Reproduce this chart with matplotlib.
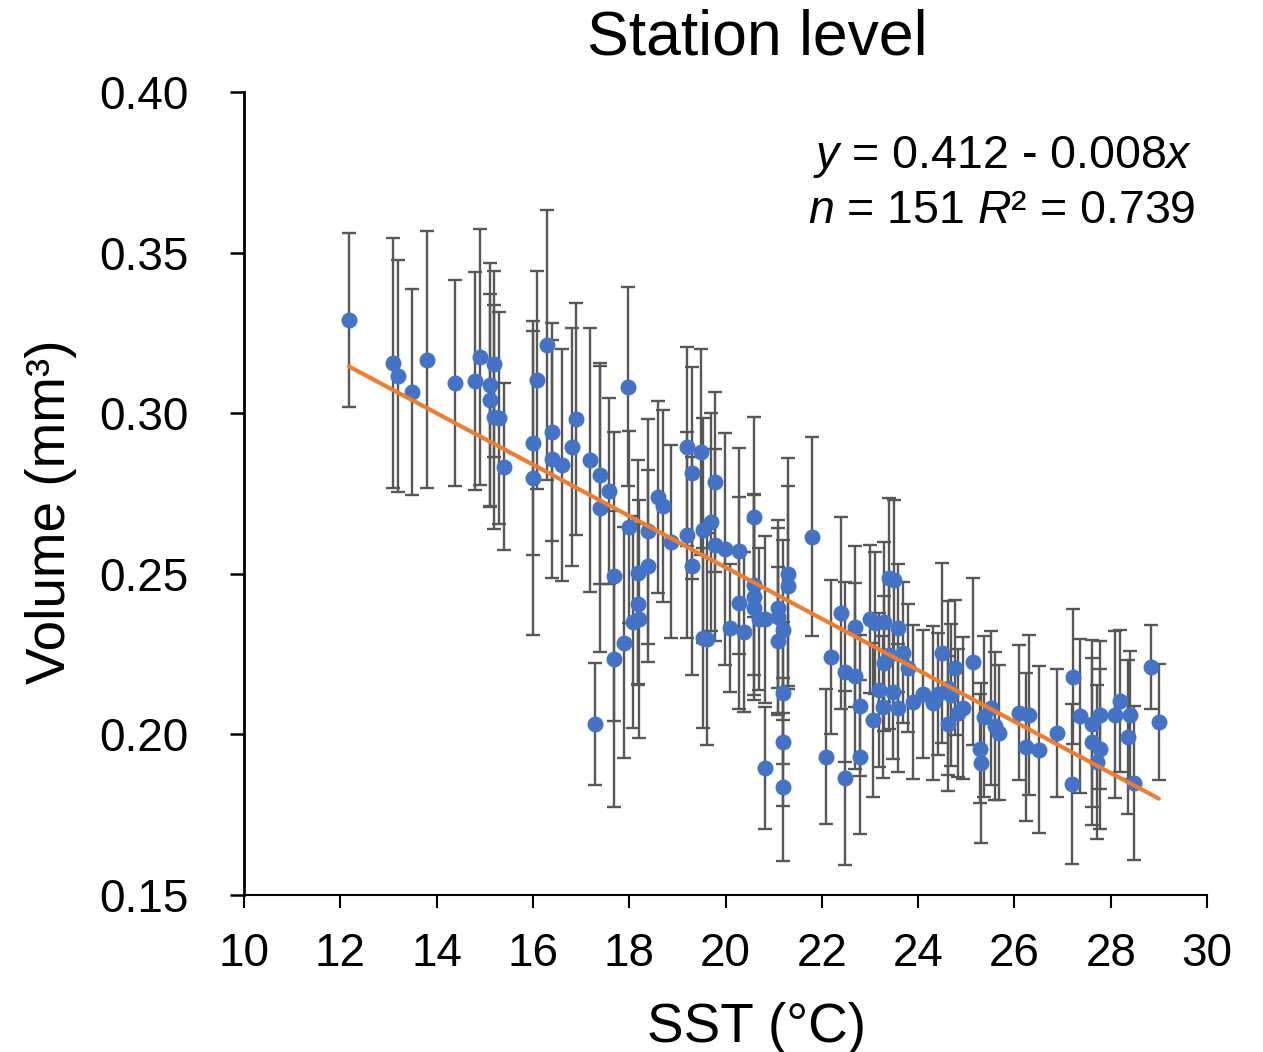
import numpy as np
import matplotlib
matplotlib.use("Agg")
import matplotlib.pyplot as plt

plt.rcParams['font.family'] = ['Liberation Sans', 'DejaVu Sans']
plt.rcParams['mathtext.fontset'] = 'custom'
plt.rcParams['mathtext.rm'] = 'Liberation Sans'
plt.rcParams['mathtext.it'] = 'Liberation Sans:italic'

# SST (°C)
sst = [12.18, 13.09, 13.20, 13.49, 13.80, 14.38, 14.80, 14.90, 15.19, 15.11,
       15.11, 15.19, 15.30, 15.40, 16.00, 16.00, 16.09, 16.29, 16.40, 16.40,
       16.60, 16.81, 16.90, 17.19, 17.29, 17.39, 17.39, 17.58, 17.68, 17.68,
       17.89, 17.98, 18.00, 18.08, 18.18, 18.20, 18.18, 18.39, 18.39, 18.60,
       18.70, 18.87, 19.20, 19.20, 19.30, 19.30, 19.49, 19.53, 19.53, 19.62,
       19.70, 19.78, 19.78, 19.99, 20.09, 20.28, 20.28, 20.38, 20.59, 20.59,
       20.59, 20.59, 20.70, 20.82, 20.82, 21.09, 21.09, 21.09, 21.19, 21.19,
       21.19, 21.19, 21.30, 21.30, 21.80, 22.09, 22.19, 22.40, 22.48, 22.48,
       22.69, 22.69, 22.79, 22.79, 23.00, 23.06, 23.10, 23.19, 23.29, 23.27,
       23.40, 23.50, 23.29, 23.40, 23.48, 23.58, 23.58, 23.69, 23.79, 23.89,
       24.10, 24.31, 24.41, 24.50, 24.62, 24.68, 24.62, 24.77, 24.83, 24.93,
       25.14, 25.29, 25.31, 25.37, 25.51, 25.60, 25.68, 26.10, 26.30, 26.24,
       26.51, 26.88, 27.22, 27.20, 27.36, 27.61, 27.78, 27.61, 27.78, 27.72,
       28.09, 28.19, 28.40, 28.36, 28.48, 28.84, 29.00]

# Volume (mm3)
volume = [0.3290, 0.3156, 0.3116, 0.3066, 0.3166, 0.3094, 0.3100, 0.3175, 0.3153, 0.3088,
          0.3041, 0.2988, 0.2985, 0.2833, 0.2907, 0.2798, 0.3103, 0.3212, 0.2942, 0.2857,
          0.2839, 0.2895, 0.2982, 0.2854, 0.2033, 0.2808, 0.2705, 0.2758, 0.2493, 0.2235,
          0.2285, 0.3082, 0.2646, 0.2350, 0.2503, 0.2359, 0.2406, 0.2524, 0.2633, 0.2739,
          0.2711, 0.2600, 0.2895, 0.2621, 0.2814, 0.2524, 0.2879, 0.2636, 0.2300, 0.2297,
          0.2661, 0.2786, 0.2590, 0.2577, 0.2331, 0.2571, 0.2409, 0.2319, 0.2677, 0.2465,
          0.2428, 0.2394, 0.2359, 0.2359, 0.1896, 0.2394, 0.2366, 0.2291, 0.2325, 0.2129,
          0.1977, 0.1837, 0.2500, 0.2462, 0.2615, 0.1930, 0.2241, 0.2378, 0.2194, 0.1864,
          0.2182, 0.2335, 0.2089, 0.1930, 0.2359, 0.2045, 0.2347, 0.2138, 0.2350, 0.2085,
          0.2487, 0.2481, 0.2222, 0.2247, 0.2132, 0.2331, 0.2082, 0.2254, 0.2207, 0.2101,
          0.2126, 0.2098, 0.2126, 0.2254, 0.2145, 0.2123, 0.2033, 0.2207, 0.2067, 0.2082,
          0.2226, 0.1955, 0.1911, 0.2055, 0.2082, 0.2026, 0.2005, 0.2067, 0.2061, 0.1961,
          0.1952, 0.2005, 0.2179, 0.1846, 0.2058, 0.2033, 0.2061, 0.1977, 0.1955, 0.1914,
          0.2061, 0.2104, 0.2061, 0.1992, 0.1849, 0.2210, 0.2039]

# error (± SD)
err = [0.027, 0.039, 0.036, 0.032, 0.040, 0.032, 0.034, 0.040, 0.029, 0.038,
       0.033, 0.035, 0.033, 0.026, 0.035, 0.049, 0.034, 0.042, 0.034, 0.037,
       0.036, 0.037, 0.036, 0.041, 0.019, 0.034, 0.045, 0.029, 0.045, 0.046,
       0.036, 0.031, 0.030, 0.033, 0.035, 0.037, 0.025, 0.030, 0.035, 0.030,
       0.030, 0.030, 0.031, 0.032, 0.033, 0.034, 0.032, 0.035, 0.028, 0.033,
       0.034, 0.028, 0.030, 0.036, 0.020, 0.032, 0.033, 0.025, 0.031, 0.028,
       0.032, 0.027, 0.022, 0.026, 0.019, 0.025, 0.030, 0.023, 0.028, 0.022,
       0.020, 0.023, 0.036, 0.031, 0.031, 0.021, 0.024, 0.030, 0.028, 0.027,
       0.029, 0.025, 0.022, 0.024, 0.023, 0.024, 0.022, 0.024, 0.025, 0.022,
       0.025, 0.025, 0.021, 0.023, 0.021, 0.020, 0.020, 0.022, 0.020, 0.024,
       0.020, 0.024, 0.019, 0.028, 0.027, 0.022, 0.021, 0.021, 0.020, 0.022,
       0.026, 0.017, 0.025, 0.025, 0.024, 0.023, 0.021, 0.021, 0.025, 0.023,
       0.026, 0.020, 0.021, 0.025, 0.024, 0.026, 0.023, 0.026, 0.025, 0.024,
       0.026, 0.022, 0.020, 0.024, 0.024, 0.013, 0.018]

# fitted trend: y = a + b x
fit_a = 0.412
fit_b = -0.008

x_ticks = [10, 12, 14, 16, 18, 20, 22, 24, 26, 28, 30]
y_ticks = [0.15, 0.20, 0.25, 0.30, 0.35, 0.40]

fig = plt.figure(figsize=(12.63, 10.52), dpi=100)
ax = fig.add_axes([244/1263, 1-895/1052, (1207-244)/1263, (895-92)/1052])

ax.errorbar(sst, volume, yerr=err, fmt='none', ecolor='#575757',
            elinewidth=1.7, capsize=5, capthick=1.7, zorder=2)
ax.plot(sst, volume, 'o', color='#4472C4', markersize=11.5,
        markeredgewidth=0, zorder=3)

xs = np.array([min(sst), max(sst)])
ax.plot(xs, fit_a + fit_b * xs, color='#ED7D31', lw=3.0, zorder=4,
        solid_capstyle='round')

ax.set_xlim(10, 30)
ax.set_ylim(0.15, 0.40)
ax.set_xticks(x_ticks)
ax.set_yticks(y_ticks)
ax.set_xticklabels([str(t) for t in x_ticks])
ax.set_yticklabels([f"{t:.2f}" for t in y_ticks])
ax.spines['top'].set_visible(False)
ax.spines['right'].set_visible(False)
ax.spines['left'].set_linewidth(2.0)
ax.spines['bottom'].set_linewidth(1.5)
ax.tick_params(axis='y', direction='out', length=10, width=1.8, pad=30,
               labelsize=33)
ax.tick_params(axis='x', direction='out', length=9.5, width=1.5, pad=17,
               labelsize=33)

ax.set_xlabel('SST (°C)', fontsize=39.5)
ax.xaxis.label.set_va('baseline')
ax.xaxis.set_label_coords(0.5325, -0.183)
ax.set_ylabel('Volume (mm³)', fontsize=39.5)
ax.yaxis.label.set_va('baseline')
ax.yaxis.set_label_coords(-0.186, 0.477)

fig.text(757/1263, 1-38/1052, 'Station level', fontsize=45,
         ha='center', va='center')

ax.text(0.985, 0.919, r'$y$ = 0.412 - 0.008$x$', transform=ax.transAxes,
        fontsize=33.5, ha='right', va='center')
ax.text(0.988, 0.852, r'$n$ = 151 $R$² = 0.739', transform=ax.transAxes,
        fontsize=33.5, ha='right', va='center')

fig.savefig('out.png', dpi=100)
